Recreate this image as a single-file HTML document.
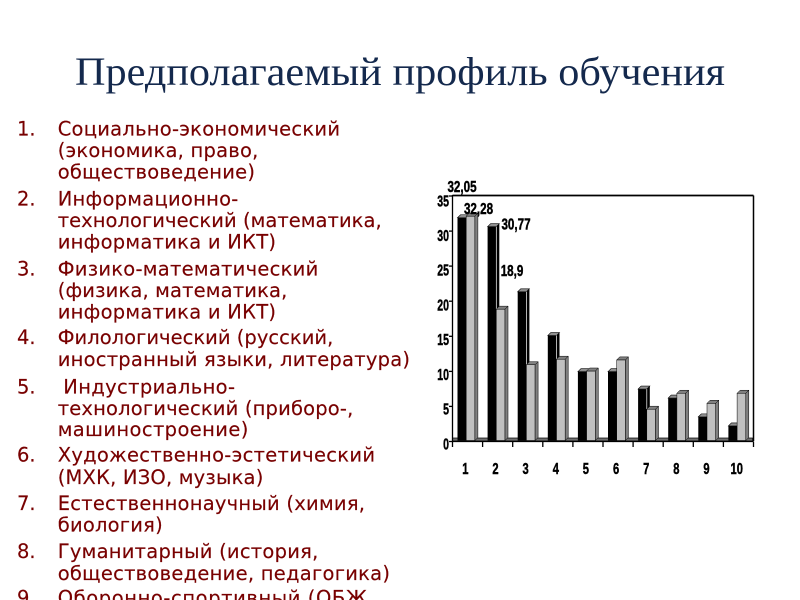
<!DOCTYPE html>
<html>
<head>
<meta charset="utf-8">
<style>
html,body{margin:0;padding:0;background:#fff;}
svg{display:block;}
.li{font-family:"DejaVu Sans","Liberation Sans",sans-serif;font-size:19.5px;fill:#780000;stroke:#780000;stroke-width:0.15px;}
.ax{font-family:"Liberation Sans",sans-serif;font-weight:bold;font-size:15.5px;fill:#000;stroke:#000;stroke-width:0.45px;}
</style>
</head>
<body>
<svg width="800" height="600" viewBox="0 0 800 600" xmlns="http://www.w3.org/2000/svg">
<rect width="800" height="600" fill="#fff"/>

<!-- Title -->
<text x="75" y="85" textLength="650" lengthAdjust="spacingAndGlyphs" style="font-family:'Liberation Serif',serif;font-size:40px;fill:#14294d;">Предполагаемый профиль обучения</text>

<!-- List -->
<g class="li">
<text x="17" y="135.3">1.</text>
<text x="57.7" y="135.3" textLength="282.3">Социально-экономический</text>
<text x="57.7" y="157" textLength="200.6">(экономика, право,</text>
<text x="57.7" y="178.5" textLength="197.3">обществоведение)</text>

<text x="17" y="205.5">2.</text>
<text x="57.7" y="205.5" textLength="180.6">Информационно-</text>
<text x="57.7" y="227" textLength="324">технологический (математика,</text>
<text x="57.7" y="248.5" textLength="218.3">информатика и ИКТ)</text>

<text x="17" y="275.5">3.</text>
<text x="57.7" y="275.5" textLength="260.6">Физико-математический</text>
<text x="57.7" y="297" textLength="229.6">(физика, математика,</text>
<text x="57.7" y="318.5" textLength="218.3">информатика и ИКТ)</text>

<text x="17" y="344">4.</text>
<text x="57.7" y="344" textLength="275.6">Филологический (русский,</text>
<text x="57.7" y="366" textLength="352.3">иностранный языки, литература)</text>

<text x="17" y="393.3">5.</text>
<text x="63.3" y="393.3" textLength="171.7">Индустриально-</text>
<text x="57.7" y="415" textLength="295.6">технологический (приборо-,</text>
<text x="57.7" y="436" textLength="190.6">машиностроение)</text>

<text x="17" y="461.7">6.</text>
<text x="57.7" y="461.7" textLength="317.3">Художественно-эстетический</text>
<text x="57.7" y="484" textLength="205.6">(МХК, ИЗО, музыка)</text>

<text x="17" y="510">7.</text>
<text x="57.7" y="510" textLength="307.3">Естественнонаучный (химия,</text>
<text x="57.7" y="531.7" textLength="105">биология)</text>

<text x="17" y="558">8.</text>
<text x="57.7" y="558" textLength="260.6">Гуманитарный (история,</text>
<text x="57.7" y="580" textLength="332.3">обществоведение, педагогика)</text>

<text x="17" y="604.5">9.</text>
<text x="57.7" y="604.5" textLength="316">Оборонно-спортивный (ОБЖ,</text>
</g>

<!-- Chart frame -->
<g stroke="#000" fill="none">
<line x1="452.5" y1="195.5" x2="753.5" y2="195.5" stroke-width="1.8"/>
<line x1="753.5" y1="195.5" x2="753.5" y2="441" stroke-width="1.5"/>
</g>

<!-- floor -->
<rect x="452.5" y="438" width="300" height="3" fill="#707070" stroke="#000" stroke-width="0.7"/>

<!-- Bars -->
<g stroke-linejoin="miter">
<g>
<rect x="457.5" y="217.75" width="8.7" height="222.75" fill="#000"/>
<polygon points="466.2,217.75 469.2,214.75 469.2,437.5 466.2,440.5" fill="#000"/>
<polygon points="457.5,217.75 460.5,214.75 469.2,214.75 466.2,217.75" fill="#909090" stroke="#000" stroke-width="0.6"/>
<rect x="466.2" y="216.15" width="8.7" height="224.35" fill="#c0c0c0" stroke="#000" stroke-width="0.5"/>
<polygon points="474.9,216.15 477.9,213.15 477.9,437.5 474.9,440.5" fill="#808080" stroke="#000" stroke-width="0.5"/>
<polygon points="466.2,216.15 469.2,213.15 477.9,213.15 474.9,216.15" fill="#808080" stroke="#000" stroke-width="0.5"/>
</g>
<g>
<rect x="487.6" y="226.65" width="8.7" height="213.85" fill="#000"/>
<polygon points="496.3,226.65 499.3,223.65 499.3,437.5 496.3,440.5" fill="#000"/>
<polygon points="487.6,226.65 490.6,223.65 499.3,223.65 496.3,226.65" fill="#909090" stroke="#000" stroke-width="0.6"/>
<line x1="496.3" y1="226.65" x2="496.3" y2="309.15" stroke="#fff" stroke-width="0.7"/>
<rect x="496.3" y="309.15" width="8.7" height="131.35" fill="#c0c0c0" stroke="#000" stroke-width="0.5"/>
<polygon points="505,309.15 508,306.15 508,437.5 505,440.5" fill="#808080" stroke="#000" stroke-width="0.5"/>
<polygon points="496.3,309.15 499.3,306.15 508,306.15 505,309.15" fill="#808080" stroke="#000" stroke-width="0.5"/>
</g>
<g>
<rect x="517.7" y="291.77" width="8.7" height="148.73" fill="#000"/>
<polygon points="526.4,291.77 529.4,288.77 529.4,437.5 526.4,440.5" fill="#000"/>
<polygon points="517.7,291.77 520.7,288.77 529.4,288.77 526.4,291.77" fill="#909090" stroke="#000" stroke-width="0.6"/>
<line x1="526.4" y1="291.77" x2="526.4" y2="364.75" stroke="#fff" stroke-width="0.7"/>
<rect x="526.4" y="364.75" width="8.7" height="75.75" fill="#c0c0c0" stroke="#000" stroke-width="0.5"/>
<polygon points="535.1,364.75 538.1,361.75 538.1,437.5 535.1,440.5" fill="#808080" stroke="#000" stroke-width="0.5"/>
<polygon points="526.4,364.75 529.4,361.75 538.1,361.75 535.1,364.75" fill="#808080" stroke="#000" stroke-width="0.5"/>
</g>
<g>
<rect x="547.8" y="335.56" width="8.7" height="104.94" fill="#000"/>
<polygon points="556.5,335.56 559.5,332.56 559.5,437.5 556.5,440.5" fill="#000"/>
<polygon points="547.8,335.56 550.8,332.56 559.5,332.56 556.5,335.56" fill="#909090" stroke="#000" stroke-width="0.6"/>
<line x1="556.5" y1="335.56" x2="556.5" y2="359.2" stroke="#fff" stroke-width="0.7"/>
<rect x="556.5" y="359.2" width="8.7" height="81.3" fill="#c0c0c0" stroke="#000" stroke-width="0.5"/>
<polygon points="565.2,359.2 568.2,356.2 568.2,437.5 565.2,440.5" fill="#808080" stroke="#000" stroke-width="0.5"/>
<polygon points="556.5,359.2 559.5,356.2 568.2,356.2 565.2,359.2" fill="#808080" stroke="#000" stroke-width="0.5"/>
</g>
<g>
<rect x="577.9" y="371.7" width="8.7" height="68.8" fill="#000"/>
<polygon points="586.6,371.7 589.6,368.7 589.6,437.5 586.6,440.5" fill="#000"/>
<polygon points="577.9,371.7 580.9,368.7 589.6,368.7 586.6,371.7" fill="#909090" stroke="#000" stroke-width="0.6"/>
<rect x="586.6" y="371" width="8.7" height="69.5" fill="#c0c0c0" stroke="#000" stroke-width="0.5"/>
<polygon points="595.3,371 598.3,368 598.3,437.5 595.3,440.5" fill="#808080" stroke="#000" stroke-width="0.5"/>
<polygon points="586.6,371 589.6,368 598.3,368 595.3,371" fill="#808080" stroke="#000" stroke-width="0.5"/>
</g>
<g>
<rect x="608" y="371.7" width="8.7" height="68.8" fill="#000"/>
<polygon points="616.7,371.7 619.7,368.7 619.7,437.5 616.7,440.5" fill="#000"/>
<polygon points="608,371.7 611,368.7 619.7,368.7 616.7,371.7" fill="#909090" stroke="#000" stroke-width="0.6"/>
<rect x="616.7" y="359.9" width="8.7" height="80.6" fill="#c0c0c0" stroke="#000" stroke-width="0.5"/>
<polygon points="625.4,359.9 628.4,356.9 628.4,437.5 625.4,440.5" fill="#808080" stroke="#000" stroke-width="0.5"/>
<polygon points="616.7,359.9 619.7,356.9 628.4,356.9 625.4,359.9" fill="#808080" stroke="#000" stroke-width="0.5"/>
</g>
<g>
<rect x="638.1" y="389.07" width="8.7" height="51.43" fill="#000"/>
<polygon points="646.8,389.07 649.8,386.07 649.8,437.5 646.8,440.5" fill="#000"/>
<polygon points="638.1,389.07 641.1,386.07 649.8,386.07 646.8,389.07" fill="#909090" stroke="#000" stroke-width="0.6"/>
<line x1="646.8" y1="389.07" x2="646.8" y2="409.2" stroke="#fff" stroke-width="0.7"/>
<rect x="646.8" y="409.2" width="8.7" height="31.3" fill="#c0c0c0" stroke="#000" stroke-width="0.5"/>
<polygon points="655.5,409.2 658.5,406.2 658.5,437.5 655.5,440.5" fill="#808080" stroke="#000" stroke-width="0.5"/>
<polygon points="646.8,409.2 649.8,406.2 658.5,406.2 655.5,409.2" fill="#808080" stroke="#000" stroke-width="0.5"/>
</g>
<g>
<rect x="668.2" y="398.1" width="8.7" height="42.4" fill="#000"/>
<polygon points="676.9,398.1 679.9,395.1 679.9,437.5 676.9,440.5" fill="#000"/>
<polygon points="668.2,398.1 671.2,395.1 679.9,395.1 676.9,398.1" fill="#909090" stroke="#000" stroke-width="0.6"/>
<rect x="676.9" y="393.24" width="8.7" height="47.26" fill="#c0c0c0" stroke="#000" stroke-width="0.5"/>
<polygon points="685.6,393.24 688.6,390.24 688.6,437.5 685.6,440.5" fill="#808080" stroke="#000" stroke-width="0.5"/>
<polygon points="676.9,393.24 679.9,390.24 688.6,390.24 685.6,393.24" fill="#808080" stroke="#000" stroke-width="0.5"/>
</g>
<g>
<rect x="698.3" y="416.87" width="8.7" height="23.63" fill="#000"/>
<polygon points="707,416.87 710,413.87 710,437.5 707,440.5" fill="#000"/>
<polygon points="698.3,416.87 701.3,413.87 710,413.87 707,416.87" fill="#909090" stroke="#000" stroke-width="0.6"/>
<rect x="707" y="403.3" width="8.7" height="37.2" fill="#c0c0c0" stroke="#000" stroke-width="0.5"/>
<polygon points="715.7,403.3 718.7,400.3 718.7,437.5 715.7,440.5" fill="#808080" stroke="#000" stroke-width="0.5"/>
<polygon points="707,403.3 710,400.3 718.7,400.3 715.7,403.3" fill="#808080" stroke="#000" stroke-width="0.5"/>
</g>
<g>
<rect x="728.4" y="425.9" width="8.7" height="14.6" fill="#000"/>
<polygon points="737.1,425.9 740.1,422.9 740.1,437.5 737.1,440.5" fill="#000"/>
<polygon points="728.4,425.9 731.4,422.9 740.1,422.9 737.1,425.9" fill="#909090" stroke="#000" stroke-width="0.6"/>
<rect x="737.1" y="393.24" width="8.7" height="47.26" fill="#c0c0c0" stroke="#000" stroke-width="0.5"/>
<polygon points="745.8,393.24 748.8,390.24 748.8,437.5 745.8,440.5" fill="#808080" stroke="#000" stroke-width="0.5"/>
<polygon points="737.1,393.24 740.1,390.24 748.8,390.24 745.8,393.24" fill="#808080" stroke="#000" stroke-width="0.5"/>
</g>
</g>

<!-- Axes -->
<g stroke="#000" fill="none" stroke-width="1.3">
<line x1="452.5" y1="195" x2="452.5" y2="442"/>
<line x1="452" y1="441.5" x2="753.5" y2="441.5"/>
<line x1="449" y1="196" x2="452.5" y2="196"/>
<line x1="449" y1="231.1" x2="452.5" y2="231.1"/>
<line x1="449" y1="266.1" x2="452.5" y2="266.1"/>
<line x1="449" y1="301.2" x2="452.5" y2="301.2"/>
<line x1="449" y1="336.3" x2="452.5" y2="336.3"/>
<line x1="449" y1="371.4" x2="452.5" y2="371.4"/>
<line x1="449" y1="406.4" x2="452.5" y2="406.4"/>
<line x1="449" y1="441.5" x2="452.5" y2="441.5"/>
<line x1="452.5" y1="441.5" x2="452.5" y2="447"/>
<line x1="482.6" y1="441.5" x2="482.6" y2="447"/>
<line x1="512.7" y1="441.5" x2="512.7" y2="447"/>
<line x1="542.8" y1="441.5" x2="542.8" y2="447"/>
<line x1="572.9" y1="441.5" x2="572.9" y2="447"/>
<line x1="603" y1="441.5" x2="603" y2="447"/>
<line x1="633.1" y1="441.5" x2="633.1" y2="447"/>
<line x1="663.2" y1="441.5" x2="663.2" y2="447"/>
<line x1="693.3" y1="441.5" x2="693.3" y2="447"/>
<line x1="723.4" y1="441.5" x2="723.4" y2="447"/>
<line x1="753.5" y1="441.5" x2="753.5" y2="447"/>
</g>

<!-- Y labels -->
<g class="ax" text-anchor="end">
<text transform="translate(449,206.3) scale(0.68,1)">35</text>
<text transform="translate(449,241) scale(0.68,1)">30</text>
<text transform="translate(449,275.7) scale(0.68,1)">25</text>
<text transform="translate(449,310.5) scale(0.68,1)">20</text>
<text transform="translate(449,345.2) scale(0.68,1)">15</text>
<text transform="translate(449,379.9) scale(0.68,1)">10</text>
<text transform="translate(449,414.7) scale(0.68,1)">5</text>
<text transform="translate(449,449.4) scale(0.68,1)">0</text>
</g>

<!-- X labels -->
<g class="ax" text-anchor="middle">
<text transform="translate(465.3,473.8) scale(0.72,1)">1</text>
<text transform="translate(495.5,473.8) scale(0.72,1)">2</text>
<text transform="translate(525.6,473.8) scale(0.72,1)">3</text>
<text transform="translate(555.8,473.8) scale(0.72,1)">4</text>
<text transform="translate(585.9,473.8) scale(0.72,1)">5</text>
<text transform="translate(616.1,473.8) scale(0.72,1)">6</text>
<text transform="translate(646.2,473.8) scale(0.72,1)">7</text>
<text transform="translate(676.4,473.8) scale(0.72,1)">8</text>
<text transform="translate(706.5,473.8) scale(0.72,1)">9</text>
<text transform="translate(736.7,473.8) scale(0.72,1)">10</text>
</g>

<!-- Data labels -->
<g class="ax" text-anchor="middle">
<text transform="translate(462,192.2) scale(0.75,1)">32,05</text>
<text transform="translate(478.5,214) scale(0.75,1)">32,28</text>
<text transform="translate(516,229.5) scale(0.75,1)">30,77</text>
<text transform="translate(512,276.2) scale(0.75,1)">18,9</text>
</g>
</svg>
</body>
</html>
